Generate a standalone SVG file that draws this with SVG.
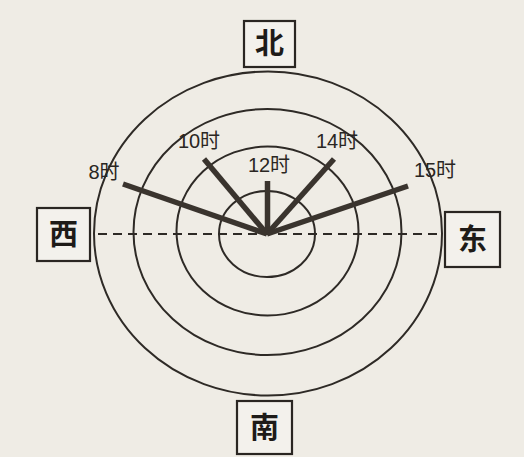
<svg xmlns="http://www.w3.org/2000/svg" width="524" height="457" viewBox="0 0 524 457">
<style>
.ring{fill:none;stroke:#2e2a26;stroke-width:2}
.dash{fill:none;stroke:#2e2a26;stroke-width:2;stroke-dasharray:9 6}
.ray{stroke:#3a342e;stroke-width:5.5;stroke-linecap:butt}
.box{fill:#f3f1ec;stroke:#2a2622;stroke-width:2.2}
.dir{font-family:"Noto Sans CJK SC","Noto Sans",sans-serif;font-size:29px;font-weight:bold;fill:#1e1b18;text-anchor:middle}
.lbl{font-family:"Liberation Sans","Noto Sans CJK SC",sans-serif;font-size:20px;fill:#2a2622;text-anchor:middle}
</style>
<rect width="524" height="457" fill="#efece5"/>
<g id="rings">
<ellipse class="ring" cx="268" cy="233.5" rx="174" ry="162"/>
<ellipse class="ring" cx="267.5" cy="232" rx="134" ry="123"/>
<ellipse class="ring" cx="267.5" cy="231" rx="91" ry="84.5"/>
<ellipse class="ring" cx="267" cy="234" rx="48" ry="43"/>
</g>
<g id="connectors">
<line class="dash" x1="98" y1="234" x2="438" y2="234"/>
<line class="ray" x1="123" y1="184" x2="267" y2="234"/>
<line class="ray" x1="204" y1="159" x2="267" y2="234"/>
<line class="ray" x1="267.5" y1="181" x2="267.5" y2="234"/>
<line class="ray" x1="334" y1="159" x2="267" y2="234"/>
<line class="ray" x1="408" y1="186" x2="267" y2="234"/>
</g>
<g id="label-8"><text class="lbl" x="104" y="179">8时</text></g>
<g id="label-10"><text class="lbl" x="199" y="148">10时</text></g>
<g id="label-12"><text class="lbl" x="269" y="172">12时</text></g>
<g id="label-14"><text class="lbl" x="337" y="148">14时</text></g>
<g id="label-15"><text class="lbl" x="435" y="177">15时</text></g>
<g id="north"><rect class="box" x="244" y="21" width="51" height="46"/><text class="dir" x="269.5" y="54">北</text></g>
<g id="south"><rect class="box" x="237" y="401" width="55" height="53"/><text class="dir" x="264.5" y="438">南</text></g>
<g id="west"><rect class="box" x="37" y="208" width="53" height="53"/><text class="dir" x="63.5" y="245">西</text></g>
<g id="east"><rect class="box" x="445" y="212" width="55" height="55"/><text class="dir" x="472.5" y="250">东</text></g>
</svg>
